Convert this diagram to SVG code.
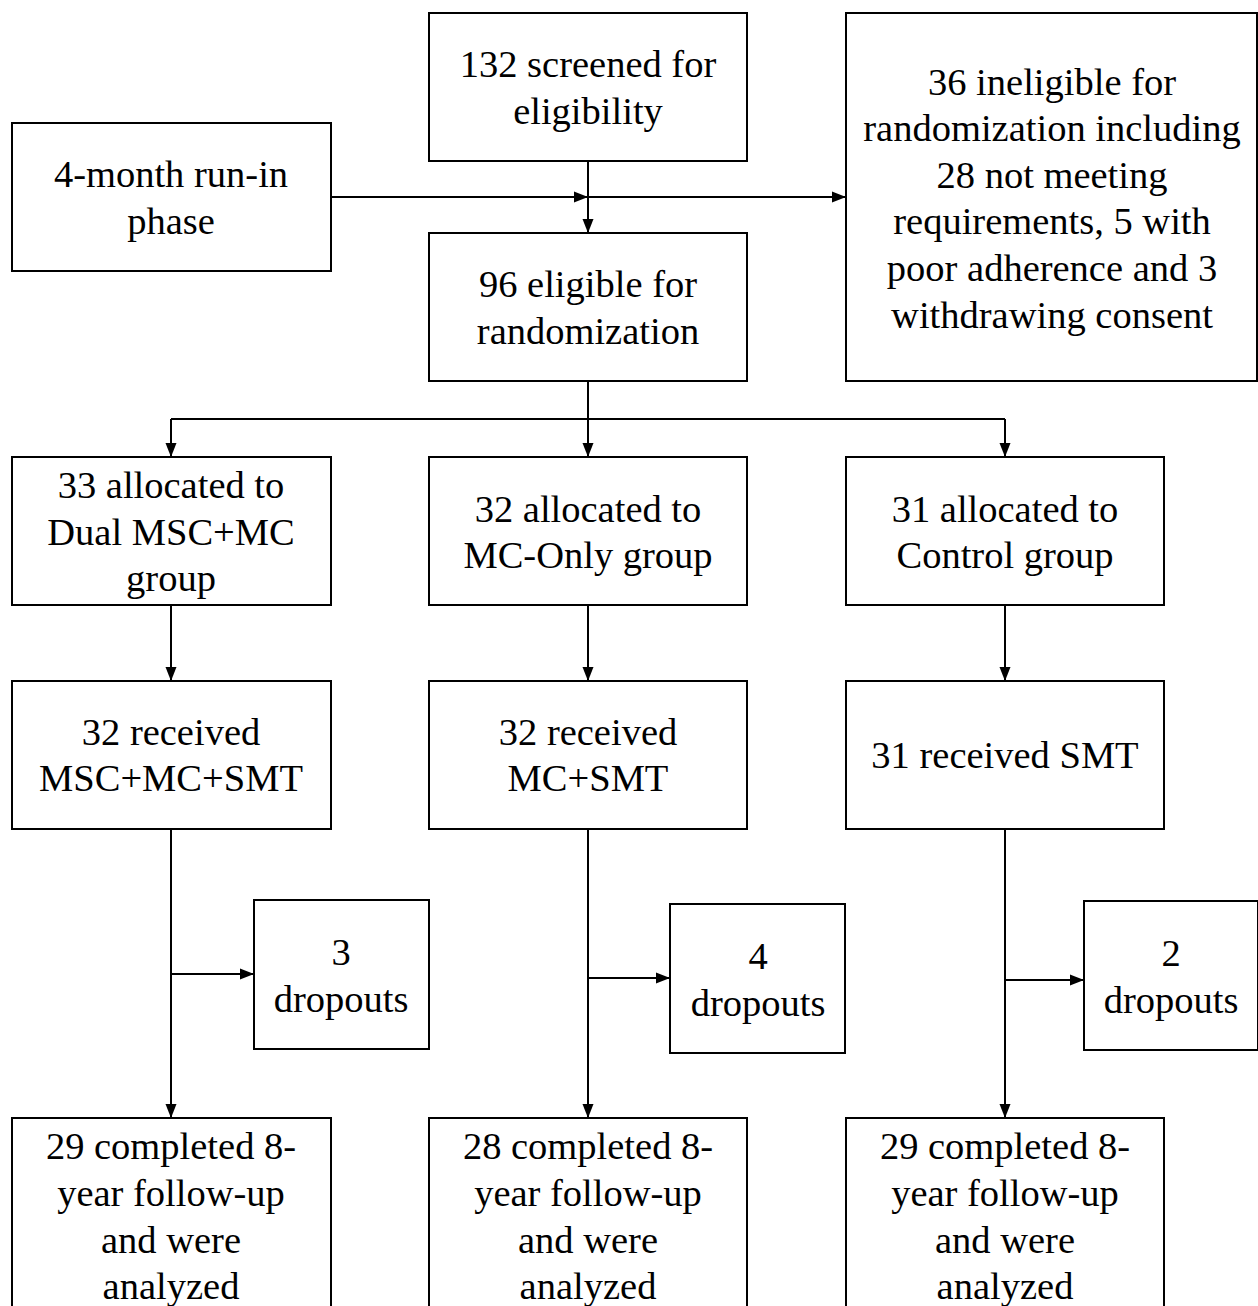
<svg xmlns="http://www.w3.org/2000/svg" width="1258" height="1306" viewBox="0 0 1258 1306">
<style>
rect.b{fill:#fff;stroke:#000;stroke-width:2}
text{font-size:38.5px;fill:#000;text-anchor:middle}
.c line{stroke:#000;stroke-width:2;fill:none}
</style>
<defs>
<marker id="ah" markerUnits="userSpaceOnUse" markerWidth="15" markerHeight="12" refX="14" refY="6" orient="auto">
<path d="M0,0.5 L14,6 L0,11.5 z" fill="#000"/>
</marker>
</defs>
<rect width="1258" height="1306" fill="#fff"/>
<g class="c" id="connectors">
<line x1="331" y1="197" x2="588" y2="197" marker-end="url(#ah)"/>
<line x1="588" y1="197" x2="846" y2="197" marker-end="url(#ah)"/>
<line x1="588" y1="161" x2="588" y2="233" marker-end="url(#ah)"/>
<line x1="588" y1="381" x2="588" y2="419"/>
<line x1="171" y1="419" x2="1005" y2="419"/>
<line x1="171" y1="419" x2="171" y2="457" marker-end="url(#ah)"/>
<line x1="588" y1="419" x2="588" y2="457" marker-end="url(#ah)"/>
<line x1="1005" y1="419" x2="1005" y2="457" marker-end="url(#ah)"/>
<line x1="171" y1="605" x2="171" y2="681" marker-end="url(#ah)"/>
<line x1="588" y1="605" x2="588" y2="681" marker-end="url(#ah)"/>
<line x1="1005" y1="605" x2="1005" y2="681" marker-end="url(#ah)"/>
<line x1="171" y1="829" x2="171" y2="1118" marker-end="url(#ah)"/>
<line x1="588" y1="829" x2="588" y2="1118" marker-end="url(#ah)"/>
<line x1="1005" y1="829" x2="1005" y2="1118" marker-end="url(#ah)"/>
<line x1="171" y1="974" x2="254" y2="974" marker-end="url(#ah)"/>
<line x1="588" y1="978" x2="670" y2="978" marker-end="url(#ah)"/>
<line x1="1005" y1="980" x2="1084" y2="980" marker-end="url(#ah)"/>
</g>
<g font-family="'Liberation Serif', 'Times New Roman', Tinos, serif">
<g id="runin"><rect class="b" x="12" y="123" width="319" height="148"/><text x="171" y="187">4-month run-in</text><text x="171" y="234">phase</text></g>
<g id="screened"><rect class="b" x="429" y="13" width="318" height="148"/><text x="588" y="77">132 screened for</text><text x="588" y="124">eligibility</text></g>
<g id="eligible"><rect class="b" x="429" y="233" width="318" height="148"/><text x="588" y="297">96 eligible for</text><text x="588" y="344">randomization</text></g>
<g id="ineligible"><rect class="b" x="846" y="13" width="411" height="368"/>
<text x="1052" y="95">36 ineligible for</text><text x="1052" y="141">randomization including</text><text x="1052" y="188">28 not meeting</text><text x="1052" y="234">requirements, 5 with</text><text x="1052" y="281">poor adherence and 3</text><text x="1052" y="328">withdrawing consent</text></g>
<g id="alloc-dual"><rect class="b" x="12" y="457" width="319" height="148"/><text x="171" y="498">33 allocated to</text><text x="171" y="545">Dual MSC+MC</text><text x="171" y="591">group</text></g>
<g id="alloc-mc"><rect class="b" x="429" y="457" width="318" height="148"/><text x="588" y="522">32 allocated to</text><text x="588" y="568">MC-Only group</text></g>
<g id="alloc-control"><rect class="b" x="846" y="457" width="318" height="148"/><text x="1005" y="522">31 allocated to</text><text x="1005" y="568">Control group</text></g>
<g id="recv-dual"><rect class="b" x="12" y="681" width="319" height="148"/><text x="171" y="745">32 received</text><text x="171" y="791">MSC+MC+SMT</text></g>
<g id="recv-mc"><rect class="b" x="429" y="681" width="318" height="148"/><text x="588" y="745">32 received</text><text x="588" y="791">MC+SMT</text></g>
<g id="recv-control"><rect class="b" x="846" y="681" width="318" height="148"/><text x="1005" y="768">31 received SMT</text></g>
<g id="drop-dual"><rect class="b" x="254" y="900" width="175" height="149"/><text x="341" y="965">3</text><text x="341" y="1012">dropouts</text></g>
<g id="drop-mc"><rect class="b" x="670" y="904" width="175" height="149"/><text x="758" y="969">4</text><text x="758" y="1016">dropouts</text></g>
<g id="drop-control"><rect class="b" x="1084" y="901" width="174" height="149"/><text x="1171" y="966">2</text><text x="1171" y="1013">dropouts</text></g>
<g id="done-dual"><rect class="b" x="12" y="1118" width="319" height="220"/><text x="171" y="1159">29 completed 8-</text><text x="171" y="1206">year follow-up</text><text x="171" y="1253">and were</text><text x="171" y="1299">analyzed</text></g>
<g id="done-mc"><rect class="b" x="429" y="1118" width="318" height="220"/><text x="588" y="1159">28 completed 8-</text><text x="588" y="1206">year follow-up</text><text x="588" y="1253">and were</text><text x="588" y="1299">analyzed</text></g>
<g id="done-control"><rect class="b" x="846" y="1118" width="318" height="220"/><text x="1005" y="1159">29 completed 8-</text><text x="1005" y="1206">year follow-up</text><text x="1005" y="1253">and were</text><text x="1005" y="1299">analyzed</text></g>
</g>
</svg>
